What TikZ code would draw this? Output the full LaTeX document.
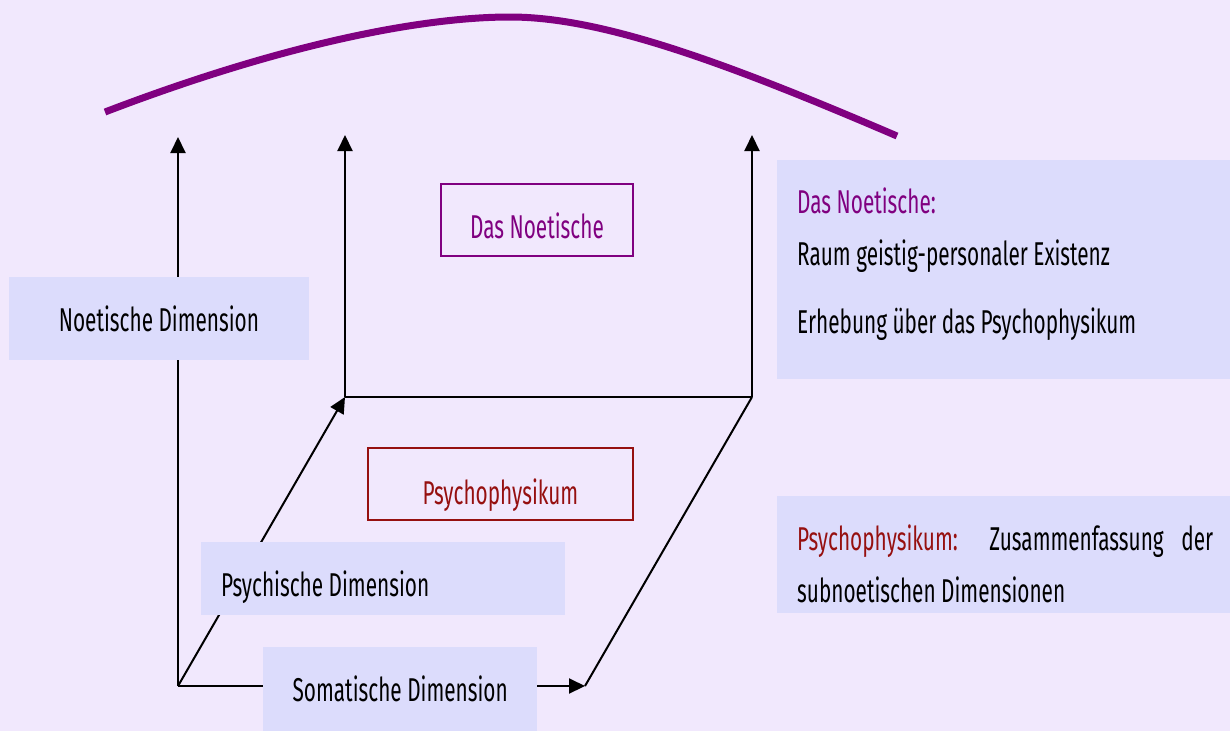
\documentclass[tikz,border=0pt]{standalone}
\usepackage{fontspec}
\setmainfont[FakeStretch=0.63]{Fira Sans}
\usetikzlibrary{arrows.meta}
\definecolor{bgviolet}{RGB}{241,232,253}
\definecolor{boxblue}{RGB}{220,220,252}
\definecolor{noetic}{RGB}{128,0,128}
\definecolor{psychred}{RGB}{150,16,16}
\tikzset{
  axis/.style={line width=2pt, -{Triangle[length=16pt, width=15pt]}},
  edge/.style={line width=2pt},
  dimbox/.style={fill=boxblue, inner sep=0pt},
  framebox/.style={draw=#1, text=#1, line width=1.8pt, inner sep=0pt},
  label/.style={inner sep=0pt, anchor=base west}
}
\begin{document}
\begin{tikzpicture}[x=1pt, y=-1pt, font=\fontsize{33}{40}\selectfont]
        %Background
        \fill[bgviolet] (0,0) rectangle (1230,731);
        \useasboundingbox (0,0) rectangle (1230,731);
        %Corners of the cube
        \coordinate (o) at (178,686);
        \coordinate (p) at (345,397);
        \coordinate (s) at (585,686);
        \coordinate (q) at (752,397);
        \coordinate (otop) at (178,137);
        \coordinate (ptop) at (345,135);
        \coordinate (qtop) at (752,135);
        %Axes
        \draw[axis] (o) -- (otop);
        \draw[axis] (o) -- (p);
        \draw[axis] (o) -- (s);
        \foreach \c in {p, q}
          \draw[axis] (\c) -- (\c top);
        \draw[edge] (p) -- (q);
        \draw[edge] (s) -- (q);
        %Arc over the noetic space
        \draw[noetic, line width=7pt] (105,112) .. controls (280,45) and (420,17) .. (510,17)
          .. controls (600,17) and (720,60) .. (897,136);
        %Dimension labels
        \node[dimbox, minimum width=300pt, minimum height=83pt] (noedim) at (159,318.5) {Noetische Dimension};
        \node[dimbox, minimum width=364pt, minimum height=73pt, anchor=north west] (psybox) at (201,542) {};
        \node[label] (psydim) at (221,596) {Psychische Dimension};
        \node[dimbox, minimum width=274pt, minimum height=84pt, anchor=north west] (somdim) at (263,647) {Somatische Dimension};
        %Framed labels
        \node[framebox=noetic, minimum width=192pt, minimum height=72pt] (noetisch) at (537,220) {\raisebox{-18pt}[0pt][0pt]{Das Noetische}};
        \node[framebox=psychred, minimum width=265pt, minimum height=72pt] (psychophys) at (500.5,484) {\raisebox{-20pt}[0pt][0pt]{Psychophysikum}};
        %Explanations
        \node[dimbox, minimum width=453pt, minimum height=219pt, anchor=north west] (noebox) at (777,160) {};
        \node[label, text=noetic] (noehead) at (797,213) {Das Noetische:};
        \node[label] (noeraum) at (797,265) {Raum geistig-personaler Existenz};
        \node[label] (noeerheb) at (797,333) {Erhebung über das Psychophysikum};
        \node[dimbox, minimum width=453pt, minimum height=117pt, anchor=north west] (psybox2) at (777,496) {};
        \node[label] (psyhead) at (797,550)
          {\makebox[416pt][s]{\textcolor{psychred}{Psychophysikum:} Zusammenfassung der}};
        \node[label] (psysub) at (797,602) {subnoetischen Dimensionen};
      \end{tikzpicture}
\end{document}
